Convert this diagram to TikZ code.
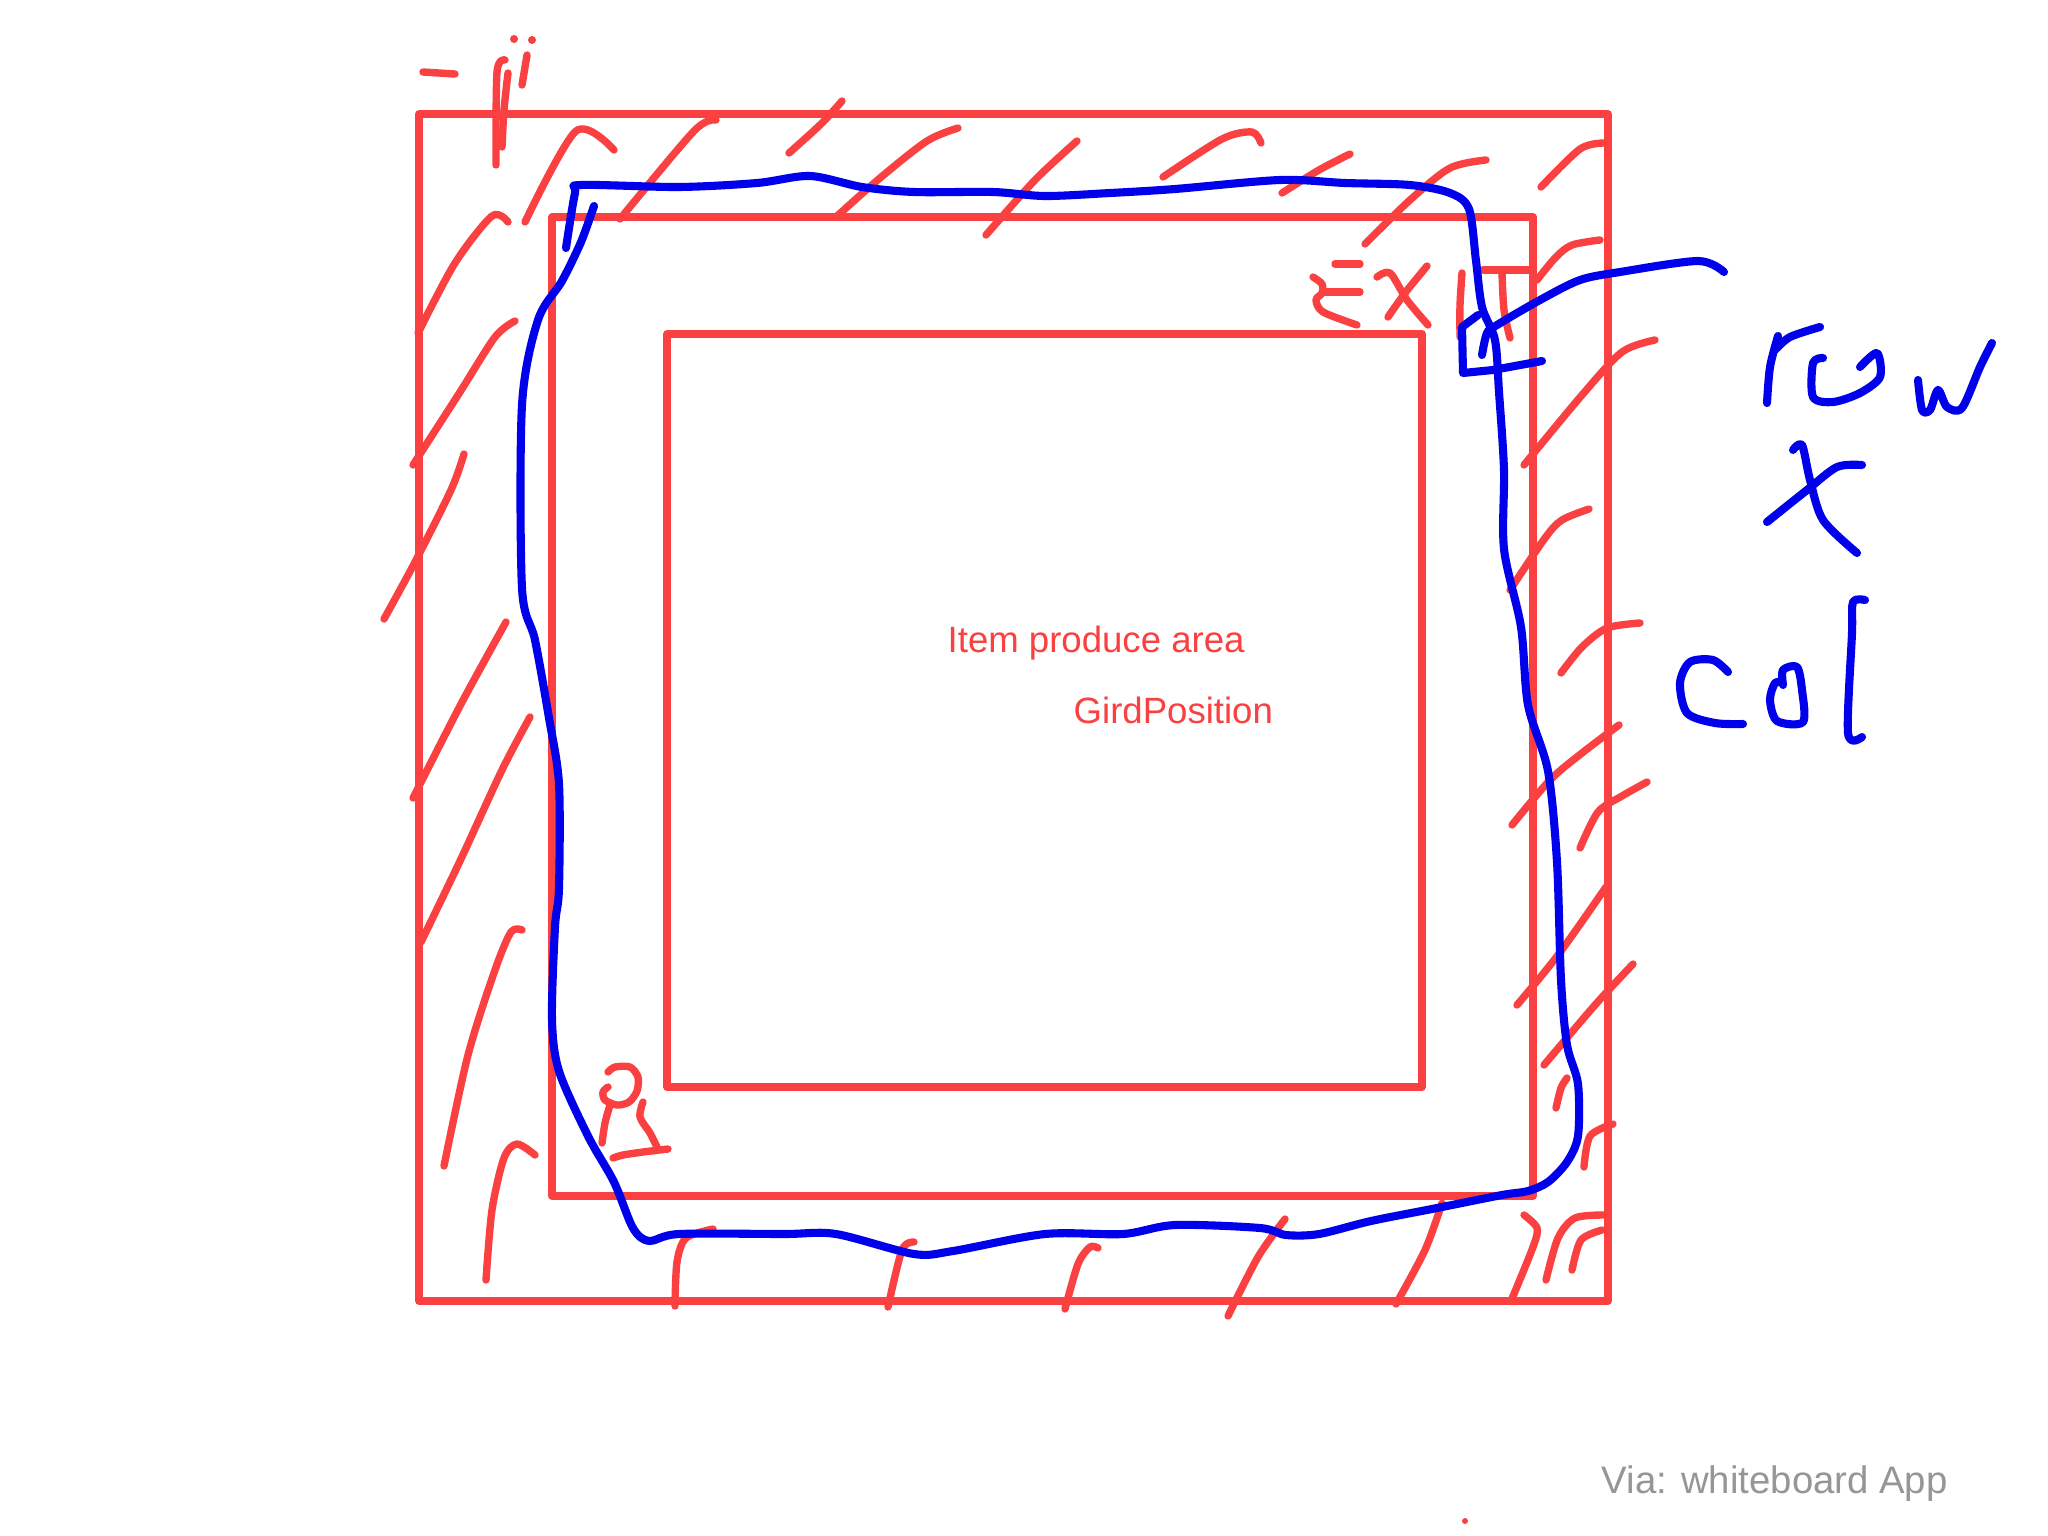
\documentclass[tikz,border=0pt]{standalone}
\usepackage{fontspec}
\setmainfont{Liberation Sans}
\definecolor{boardred}{RGB}{250,64,64}
\definecolor{boardblue}{RGB}{0,0,235}
\definecolor{boardgray}{RGB}{150,150,150}

\begin{document}
\begin{tikzpicture}[x=0.01cm,y=-0.01cm,line cap=round,line join=round,
  pen/.style={boardred,line width=2.1pt},
  bluepen/.style={boardblue,line width=2.3pt},
  label/.style={font=\fontsize{10.4}{12}\selectfont,anchor=base west,inner sep=0pt}]
 \fill[white] (0,0) rectangle (2048,1536);
 \useasboundingbox (0,0) rectangle (2048,1536);

 % areas
 \draw[pen] (419,114) rectangle (1608,1301);
 \draw[pen] (552,217) rectangle (1533,1196);
 \draw[pen] (667,334) rectangle (1422,1087);

 \node[label,text=boardred] (area) at (947,652) {Item produce area};
 \node[label,text=boardred] (gridpos) at (1073,723) {GirdPosition};
 \node[label,text=boardgray,font=\fontsize{10.9}{12}\selectfont] (via) at (1601,1493) {Via: whiteboard App};
 \fill[boardred] (1465,1521) circle (3);

 % hatching, top band
 \draw[pen] plot[smooth] coordinates {(525,222)(576,131)(614,150)};
 \draw[pen] plot[smooth] coordinates {(620,219)(694,131)(716,120)};
 \draw[pen] plot[smooth] coordinates {(789,153)(821,124)(842,101)};
 \draw[pen] plot[smooth] coordinates {(836,217)(880,178)(927,141)(958,128)};
 \draw[pen] plot[smooth] coordinates {(986,235)(1035,180)(1077,141)};
 \draw[pen] plot[smooth] coordinates {(1163,177)(1222,139)(1252,132)(1261,143)};
 \draw[pen] plot[smooth] coordinates {(1282,193)(1319,170)(1350,154)};
 \draw[pen] plot[smooth] coordinates {(1365,244)(1410,200)(1450,168)(1486,160)};
 \draw[pen] plot[smooth] coordinates {(1541,187)(1580,149)(1604,143)};
 \draw[pen] plot[smooth] coordinates {(1537,280)(1556,257)(1572,245)(1600,240)};
 % left band
 \draw[pen] plot[smooth] coordinates {(418,333)(455,263)(492,216)(508,222)};
 \draw[pen] plot[smooth] coordinates {(413,465)(460,392)(495,337)(515,321)};
 \draw[pen] plot[smooth] coordinates {(384,619)(415,562)(451,490)(464,454)};
 \draw[pen] plot[smooth] coordinates {(413,798)(461,704)(506,622)};
 \draw[pen] plot[smooth] coordinates {(421,942)(460,861)(502,770)(530,717)};
 \draw[pen] plot[smooth] coordinates {(444,1166)(468,1055)(495,970)(511,932)(522,930)};
 \draw[pen] plot[smooth] coordinates {(486,1280)(492,1210)(504,1158)(517,1144)(535,1155)};
 % bottom band
 \draw[pen] plot[smooth] coordinates {(675,1306)(677,1262)(686,1238)(713,1229)};
 \draw[pen] plot[smooth] coordinates {(888,1307)(902,1250)(914,1242)};
 \draw[pen] plot[smooth] coordinates {(1065,1309)(1078,1264)(1090,1247)(1098,1248)};
 \draw[pen] plot[smooth] coordinates {(1228,1316)(1258,1257)(1285,1219)};
 \draw[pen] plot[smooth] coordinates {(1396,1304)(1425,1250)(1442,1203)};
 \draw[pen] plot[smooth] coordinates {(1511,1301)(1533,1247)(1537,1228)(1524,1215)};
 \draw[pen] plot[smooth] coordinates {(1546,1280)(1558,1238)(1575,1218)(1604,1215)};
 \draw[pen] plot[smooth] coordinates {(1572,1270)(1581,1240)(1602,1230)};
 % right band
 \draw[pen] plot[smooth] coordinates {(1524,465)(1582,395)(1622,352)(1655,340)};
 \draw[pen] plot[smooth] coordinates {(1510,590)(1545,538)(1562,520)(1589,509)};
 \draw[pen] plot[smooth] coordinates {(1561,673)(1582,647)(1607,628)(1640,623)};
 \draw[pen] plot[smooth] coordinates {(1512,825)(1550,780)(1582,753)(1619,725)};
 \draw[pen] plot[smooth] coordinates {(1580,848)(1598,812)(1622,796)(1647,782)};
 \draw[pen] plot[smooth] coordinates {(1517,1005)(1558,955)(1606,887)};
 \draw[pen] plot[smooth] coordinates {(1544,1065)(1595,1005)(1633,964)};
 \draw[pen] plot[smooth] coordinates {(1556,1108)(1561,1088)(1567,1078)};
 \draw[pen] plot[smooth] coordinates {(1584,1167)(1590,1136)(1613,1124)};

 % scribble top left
 \draw[pen] (423,72) -- (455,74);
 \draw[pen] plot[smooth] coordinates {(505,60)(497,72)(496,165)};
 \draw[pen] plot[smooth] coordinates {(508,73)(504,110)(502,147)};
 \draw[pen] (527,55) -- (522,85);
 \fill[boardred] (514,39) circle (4) (532,40) circle (4);

 % EXIT
 \draw[pen] (1335,264) -- (1360,264);
 \draw[pen] plot[smooth] coordinates {(1313,277)(1322,284)(1322,293)(1316,300)(1323,312)(1357,325)};
 \draw[pen] (1323,292) -- (1360,292);
 \draw[pen] plot[smooth] coordinates {(1377,277)(1390,273)(1407,300)(1428,325)};
 \draw[pen] plot[smooth] coordinates {(1427,266)(1405,293)(1388,317)};
 \draw[pen] plot[smooth] coordinates {(1462,273)(1460,305)(1460,337)};
 \draw[pen] (1483,270) -- (1530,270);
 \draw[pen] plot[smooth] coordinates {(1502,273)(1504,310)(1510,338)};

 % P
 \draw[pen] plot[smooth] coordinates {(608,1072)(615,1067)(630,1067)(638,1077)(637,1091)(629,1102)(617,1105)(605,1100)(603,1092)(608,1087)};
 \draw[pen] plot[smooth] coordinates {(610,1105)(605,1123)(602,1143)};
 \draw[pen] plot[smooth] coordinates {(643,1102)(640,1117)(650,1133)(657,1147)};
 \draw[pen] plot[smooth] coordinates {(613,1158)(623,1155)(643,1152)(668,1149)};

 % route
 \draw[bluepen] plot[smooth,tension=.5] coordinates {
  (566,248)(575,193)(581,185)(679,187)(757,183)(810,176)(862,187)(914,192)
  (993,192)(1045,196)(1110,193)(1175,189)(1280,180)(1345,183)(1410,185)
  (1450,193)(1469,209)(1476,261)(1482,307)(1495,340)(1499,392)(1504,470)
  (1504,549)(1521,627)(1528,705)(1548,771)(1557,862)(1561,980)(1567,1045)
  (1578,1084)(1578,1136)(1567,1162)(1548,1182)(1528,1191)(1502,1195)
  (1437,1208)(1371,1221)(1319,1234)(1286,1235)(1260,1228)(1175,1225)
  (1123,1234)(1045,1234)(953,1251)(914,1254)(836,1234)(784,1234)(679,1234)
  (649,1241)(633,1228)(614,1182)(588,1136)(559,1071)(552,1019)(555,927)
  (559,888)(559,784)(549,718)(535,640)(522,588)(522,405)(538,320)(562,281)
  (581,242)(594,206)};
 \draw[bluepen] plot[smooth] coordinates {(1482,355)(1487,333)(1497,325)(1540,300)(1580,280)(1620,272)(1698,261)(1724,272)};
 \draw[bluepen] (1478,315) -- (1462,327) -- (1463,373) -- (1493,370) -- (1542,361);

 % row x col
 \draw[bluepen] plot[smooth] coordinates {(1778,336)(1770,367)(1767,403)};
 \draw[bluepen] plot[smooth] coordinates {(1775,350)(1790,337)(1820,327)};
 \draw[bluepen] plot[smooth] coordinates {(1860,367)(1877,353)(1880,377)(1860,393)(1833,402)(1813,397)(1813,363)(1823,358)};
 \draw[bluepen] plot[smooth] coordinates {(1918,380)(1922,410)(1930,410)(1938,390)(1947,407)(1962,408)(1980,367)(1992,343)};
 \draw[bluepen] plot[smooth] coordinates {(1793,450)(1802,445)(1810,480)(1823,520)(1857,553)};
 \draw[bluepen] plot[smooth] coordinates {(1767,522)(1807,490)(1837,467)(1862,465)};
 \draw[bluepen] plot[smooth] coordinates {(1728,672)(1713,660)(1690,662)(1680,683)(1687,713)(1715,723)(1743,724)};
 \draw[bluepen] plot[smooth] coordinates {(1783,685)(1783,670)(1797,667)(1802,690)(1803,722)(1777,721)(1770,700)(1775,683)(1783,683)};
 \draw[bluepen] plot[smooth] coordinates {(1865,600)(1853,602)(1852,633)(1848,733)(1862,737)};
\end{tikzpicture}
\end{document}
